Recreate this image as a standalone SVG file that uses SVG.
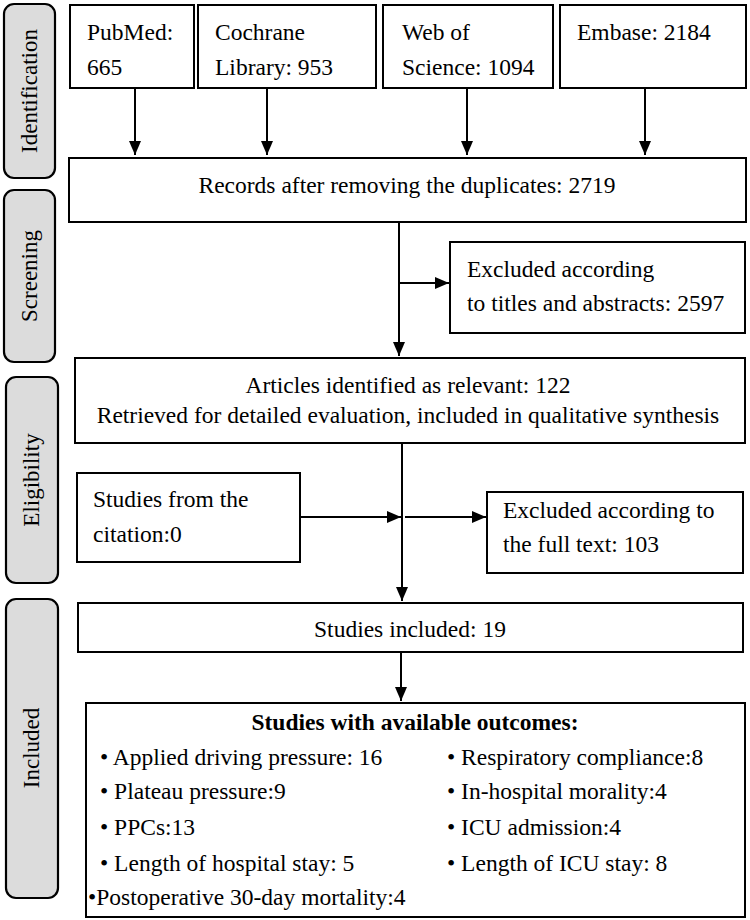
<svg xmlns="http://www.w3.org/2000/svg" width="750" height="920" viewBox="0 0 750 920">
<style>
.box{fill:#fff;stroke:#000;stroke-width:2}
.side{fill:#dcdcdc;stroke:#000;stroke-width:2.2}
text{font-family:"Liberation Serif","Times New Roman",serif;font-size:23.5px;fill:#000}
.st{font-size:23px}
.c{text-anchor:middle}
.b{font-weight:bold}
.ln{stroke:#000;stroke-width:2;fill:none}
</style>
<defs>
<marker id="ah" viewBox="0 0 14 12" refX="14" refY="6" markerWidth="14" markerHeight="12" markerUnits="userSpaceOnUse" orient="auto">
<path d="M0,0 L14,6 L0,12 Z" fill="#000"/>
</marker>
</defs>
<rect width="750" height="920" fill="#fff"/>
<g id="stage-identification"><rect class="side" x="4" y="4" width="51" height="174" rx="10"/><text class="st c" transform="translate(37,91) rotate(-90)">Identification</text></g>
<g id="stage-screening"><rect class="side" x="4" y="190" width="51" height="172" rx="10"/><text class="st c" transform="translate(37,276) rotate(-90)">Screening</text></g>
<g id="stage-eligibility"><rect class="side" x="6" y="377" width="52" height="206" rx="10"/><text class="st c" transform="translate(39,480) rotate(-90)">Eligibility</text></g>
<g id="stage-included"><rect class="side" x="6" y="599" width="52" height="299" rx="10"/><text class="st c" transform="translate(39,748) rotate(-90)">Included</text></g>

<g id="pubmed"><rect class="box" x="70" y="5" width="124" height="83"/><text x="87" y="40">PubMed:</text><text x="87" y="75">665</text></g>
<g id="cochrane"><rect class="box" x="198" y="5" width="178" height="83"/><text x="215" y="40">Cochrane</text><text x="215" y="75">Library: 953</text></g>
<g id="wos"><rect class="box" x="383" y="5" width="170" height="83"/><text x="402" y="40">Web of</text><text x="402" y="75">Science: 1094</text></g>
<g id="embase"><rect class="box" x="560" y="5" width="186" height="83"/><text x="577" y="40">Embase: 2184</text></g>
<g id="records"><rect class="box" x="69" y="158" width="677" height="64"/><text class="c" x="407" y="193">Records after removing the duplicates: 2719</text></g>
<g id="excluded-ta"><rect class="box" x="450" y="242" width="295" height="91"/><text x="467" y="277">Excluded according</text><text x="467" y="311">to titles and abstracts: 2597</text></g>
<g id="articles"><rect class="box" x="75" y="358" width="670" height="85"/><text class="c" x="408" y="393">Articles identified as relevant: 122</text><text class="c" x="408" y="423">Retrieved for detailed evaluation, included in qualitative synthesis</text></g>
<g id="citation"><rect class="box" x="77" y="473" width="223" height="89"/><text x="93" y="507">Studies from the</text><text x="93" y="542">citation:0</text></g>
<g id="excluded-ft"><rect class="box" x="487" y="492" width="256" height="81"/><text x="503" y="518">Excluded according to</text><text x="503" y="552">the full text: 103</text></g>
<g id="included"><rect class="box" x="78" y="603" width="665" height="49"/><text class="c" x="410" y="637">Studies included: 19</text></g>
<g id="outcomes"><rect class="box" x="86" y="703" width="659" height="214"/>
<text class="c b" x="415" y="730">Studies with available outcomes:</text>
<text x="100" y="765">• Applied driving pressure: 16</text>
<text x="100" y="799">• Plateau pressure:9</text>
<text x="100" y="835">• PPCs:13</text>
<text x="100" y="871">• Length of hospital stay: 5</text>
<text x="88" y="905">•Postoperative 30-day mortality:4</text>
<text x="447" y="765">• Respiratory compliance:8</text>
<text x="447" y="799">• In-hospital morality:4</text>
<text x="447" y="835">• ICU admission:4</text>
<text x="447" y="871">• Length of ICU stay: 8</text>
</g>

<g id="connectors">
<line class="ln" x1="135" y1="88" x2="135" y2="155" marker-end="url(#ah)"/>
<line class="ln" x1="267" y1="88" x2="267" y2="155" marker-end="url(#ah)"/>
<line class="ln" x1="467" y1="88" x2="467" y2="155" marker-end="url(#ah)"/>
<line class="ln" x1="645" y1="88" x2="645" y2="155" marker-end="url(#ah)"/>
<line class="ln" x1="399" y1="222" x2="399" y2="356" marker-end="url(#ah)"/>
<line class="ln" x1="399" y1="283" x2="449" y2="283" marker-end="url(#ah)"/>
<line class="ln" x1="402" y1="443" x2="402" y2="601" marker-end="url(#ah)"/>
<line class="ln" x1="300" y1="517" x2="401" y2="517" marker-end="url(#ah)"/>
<line class="ln" x1="405" y1="517" x2="486" y2="517" marker-end="url(#ah)"/>
<line class="ln" x1="401" y1="652" x2="401" y2="701" marker-end="url(#ah)"/>
</g>
</svg>
